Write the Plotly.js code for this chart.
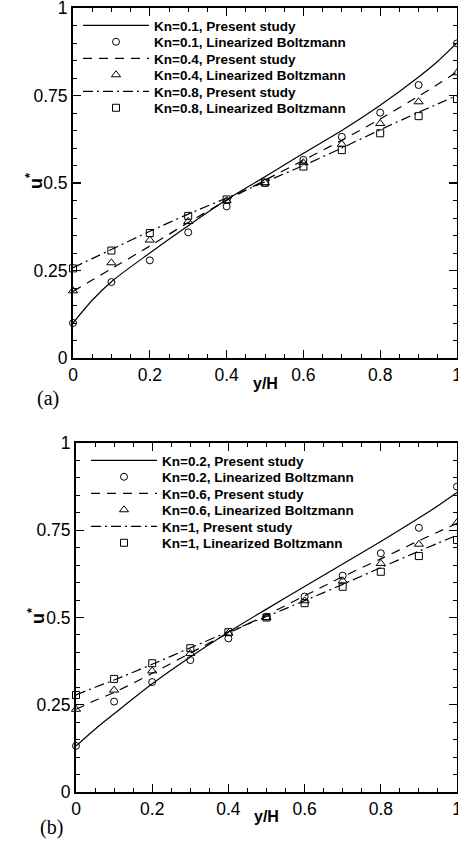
<!DOCTYPE html>
<html><head><meta charset="utf-8">
<script src="https://cdn.plot.ly/plotly-3.0.1.min.js"></script>
<style>html,body{margin:0;padding:0;background:#fff}#chart{width:458px;height:852px}</style>
</head><body><div id="chart"></div>
<script>
// positions across channel (y/H)
const markerX = [0, 0.1, 0.2, 0.3, 0.4, 0.5, 0.6, 0.7, 0.8, 0.9, 1.0];
const lineX   = [0, 0.05, 0.1, 0.2, 0.3, 0.4, 0.5, 0.6, 0.7, 0.8, 0.9, 0.95, 1.0];

// panel (a)
const presKn01 = [0.100, 0.165, 0.218, 0.300, 0.378, 0.452, 0.518, 0.585, 0.650, 0.722, 0.803, 0.848, 0.900];
const lbKn01   = [0.100, 0.217, 0.279, 0.359, 0.433, 0.500, 0.566, 0.632, 0.701, 0.780, 0.899];
const presKn04 = [0.190, 0.223, 0.255, 0.320, 0.387, 0.450, 0.508, 0.565, 0.622, 0.683, 0.748, 0.782, 0.818];
const lbKn04   = [0.192, 0.272, 0.337, 0.390, 0.449, 0.501, 0.558, 0.611, 0.670, 0.732, 0.815];
const presKn08 = [0.258, 0.284, 0.310, 0.362, 0.411, 0.457, 0.503, 0.550, 0.600, 0.652, 0.702, 0.726, 0.750];
const lbKn08   = [0.256, 0.307, 0.357, 0.406, 0.453, 0.501, 0.547, 0.594, 0.642, 0.691, 0.740];

// panel (b)
const presKn02 = [0.132, 0.180, 0.224, 0.310, 0.387, 0.458, 0.524, 0.589, 0.653, 0.718, 0.785, 0.820, 0.858];
const lbKn02   = [0.132, 0.259, 0.315, 0.378, 0.440, 0.502, 0.560, 0.620, 0.684, 0.757, 0.875];
const presKn06 = [0.237, 0.262, 0.285, 0.340, 0.398, 0.455, 0.507, 0.562, 0.617, 0.668, 0.720, 0.745, 0.770];
const lbKn06   = [0.237, 0.292, 0.347, 0.397, 0.455, 0.500, 0.548, 0.605, 0.655, 0.710, 0.772];
const presKn1  = [0.278, 0.300, 0.321, 0.366, 0.413, 0.459, 0.503, 0.548, 0.595, 0.643, 0.690, 0.713, 0.736];
const lbKn1    = [0.278, 0.324, 0.369, 0.412, 0.458, 0.500, 0.541, 0.588, 0.631, 0.676, 0.722];

const namesA = ['Kn=0.1, Present study','Kn=0.1, Linearized Boltzmann','Kn=0.4, Present study','Kn=0.4, Linearized Boltzmann','Kn=0.8, Present study','Kn=0.8, Linearized Boltzmann'];
const namesB = ['Kn=0.2, Present study','Kn=0.2, Linearized Boltzmann','Kn=0.6, Present study','Kn=0.6, Linearized Boltzmann','Kn=1, Present study','Kn=1, Linearized Boltzmann'];
const xTitle = 'y/H';
const yTitle = 'u<sup>*</sup>';
const panelLabels = ['(a)', '(b)'];

const dashes = ['solid', '9px,7px', '10px,4px,2px,4px'];
const symbols = ['circle-open', 'triangle-up-open', 'square-open'];
const msize = [7, 8, 7];

function lineTrace(y, name, i, xa, ya, lg) {
  return {x: lineX, y: y, name: name, mode: 'lines', xaxis: xa, yaxis: ya, legend: lg,
    line: {color: '#000', width: 1.2, dash: dashes[i], shape: 'spline', smoothing: 0.8}};
}
function markTrace(y, name, i, xa, ya, lg) {
  return {x: markerX, y: y, name: name, mode: 'markers', xaxis: xa, yaxis: ya, legend: lg, cliponaxis: false,
    marker: {symbol: symbols[i], size: msize[i], color: '#000', line: {color: '#000', width: 1}}};
}

const presA = [presKn01, presKn04, presKn08], lbA = [lbKn01, lbKn04, lbKn08];
const presB = [presKn02, presKn06, presKn1], lbB = [lbKn02, lbKn06, lbKn1];
const data = [];
for (let i = 0; i < 3; i++) {
  data.push(lineTrace(presA[i], namesA[2*i], i, 'x', 'y', 'legend'));
  data.push(markTrace(lbA[i], namesA[2*i+1], i, 'x', 'y', 'legend'));
}
for (let i = 0; i < 3; i++) {
  data.push(lineTrace(presB[i], namesB[2*i], i, 'x2', 'y2', 'legend2'));
  data.push(markTrace(lbB[i], namesB[2*i+1], i, 'x2', 'y2', 'legend2'));
}

const W = 458, H = 852;
const SANS = 'Liberation Sans, Arial, sans-serif';
const tickFont = {family: SANS, size: 17.5, color: '#000'};
function xAxis(dom, anchor) {
  return {domain: dom, anchor: anchor, range: [0, 1], tick0: 0, dtick: 0.2,
    ticks: 'inside', ticklen: 8, tickwidth: 1.3, tickcolor: '#000', ticklabeloverflow: 'allow',
    showline: true, linewidth: 2, linecolor: '#000', mirror: 'allticks',
    minor: {dtick: 0.05, ticks: 'inside', ticklen: 4, tickwidth: 1, tickcolor: '#000'},
    showgrid: false, zeroline: false, tickfont: tickFont};
}
function yAxis(dom, anchor) {
  return {domain: dom, anchor: anchor, range: [0, 1], tick0: 0, dtick: 0.25,
    ticks: 'inside', ticklen: 8, tickwidth: 1.3, tickcolor: '#000', ticklabeloverflow: 'allow',
    showline: true, linewidth: 2, linecolor: '#000', mirror: 'allticks',
    minor: {dtick: 0.05, ticks: 'inside', ticklen: 4, tickwidth: 1, tickcolor: '#000'},
    showgrid: false, zeroline: false, tickfont: tickFont};
}
const legFont = {family: SANS, size: 13.5, color: '#000', weight: 'bold'};
const titleFont = {family: SANS, size: 16, color: '#000'};
const uFont = {family: SANS, size: 18, color: '#000'};
const serifFont = {family: 'Liberation Serif, Times New Roman, serif', size: 20, color: '#000'};
function ann(text, x, y, font, angle) {
  return {text: text, xref: 'paper', yref: 'paper', x: x / W, y: (H - y) / H,
    xanchor: 'center', yanchor: 'middle', showarrow: false, font: font, textangle: angle || 0};
}

const layout = {
  width: W, height: H, margin: {l: 0, r: 0, t: 0, b: 0},
  paper_bgcolor: '#fff', plot_bgcolor: '#fff', showlegend: true,
  xaxis: xAxis([73/W, 457/W], 'y'),
  yaxis: yAxis([(H-358)/H, (H-8)/H], 'x'),
  xaxis2: xAxis([76/W, 457/W], 'y2'),
  yaxis2: yAxis([(H-792)/H, (H-443)/H], 'x2'),
  legend: {x: 78/W, y: (H-10)/H, xanchor: 'left', yanchor: 'top', bgcolor: 'rgba(0,0,0,0)',
    borderwidth: 0, font: legFont, itemwidth: 66, tracegroupgap: 0},
  legend2: {x: 86/W, y: (H-445)/H, xanchor: 'left', yanchor: 'top', bgcolor: 'rgba(0,0,0,0)',
    borderwidth: 0, font: legFont, itemwidth: 66, tracegroupgap: 0},
  annotations: [
    ann('<b>' + xTitle + '</b>', 265, 384, titleFont),
    ann('<b>' + xTitle + '</b>', 266.5, 816, titleFont),
    ann('<b>' + yTitle + '</b>', 34, 181, uFont, -90),
    ann('<b>' + yTitle + '</b>', 36, 616, uFont, -90),
    {text: panelLabels[0], xref: 'paper', yref: 'paper', x: 35/W, y: (H-398)/H, xanchor: 'left', yanchor: 'middle', showarrow: false, font: serifFont},
    {text: panelLabels[1], xref: 'paper', yref: 'paper', x: 38/W, y: (H-827)/H, xanchor: 'left', yanchor: 'middle', showarrow: false, font: serifFont}
  ]
};

const ROW_PITCH = 16.5;
Plotly.newPlot('chart', data, layout, {displayModeBar: false, staticPlot: true}).then(function (gd) {
  // tighten legend row pitch to match the reference
  const roots = Array.from(gd.querySelectorAll('g.infolayer > g')).filter(function (g) {
    return /^legend/.test(g.getAttribute('class') || '');
  });
  const re = /translate\(\s*([-\d.eE]+)[ ,]+([-\d.eE]+)\s*\)/;
  roots.forEach(function (root) {
    const items = Array.from(root.querySelectorAll('g.traces'));
    if (items.length < 2) return;
    const pos = items.map(function (el) {
      const m = re.exec(el.getAttribute('transform') || '');
      return m ? [parseFloat(m[1]), parseFloat(m[2])] : null;
    });
    if (!pos[0] || !pos[1]) return;
    const step = pos[1][1] - pos[0][1];
    items.forEach(function (el, i) {
      if (!pos[i]) return;
      el.setAttribute('transform', 'translate(' + pos[i][0] + ',' + (pos[i][1] - i * (step - ROW_PITCH)) + ')');
    });
  });
});
</script>
</body></html>
